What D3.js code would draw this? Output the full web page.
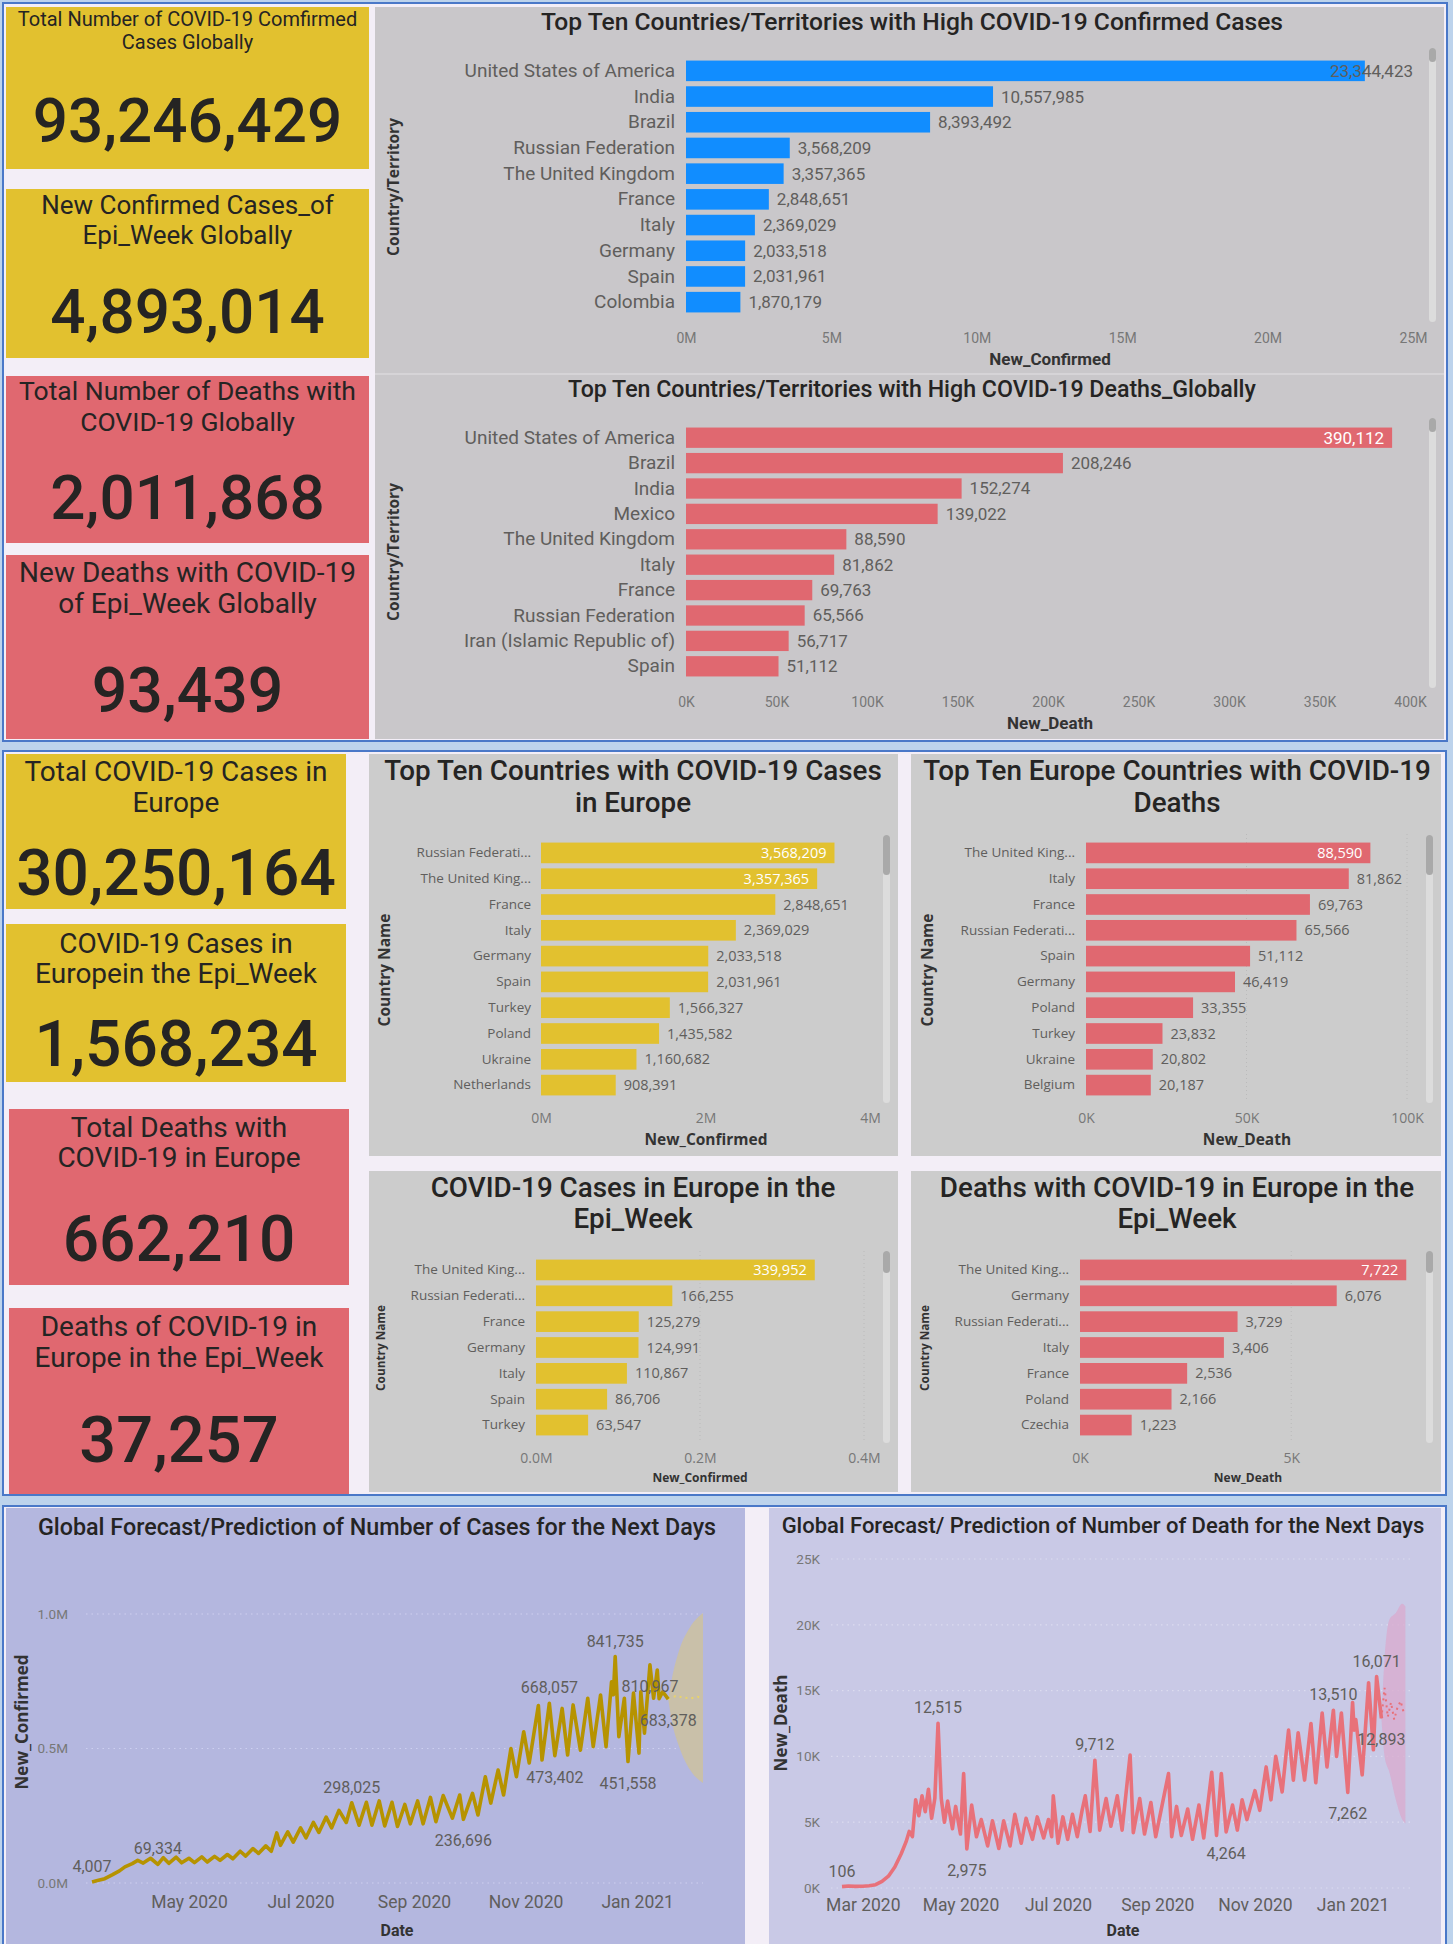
<!DOCTYPE html>
<html>
<head>
<meta charset="utf-8">
<script src="https://cdn.jsdelivr.net/npm/d3@7"></script>
<style>
  body { margin: 0; background: #bdd3ec; }
  svg { display: block; }
</style>
</head>
<body>
<svg id="dash" width="1453" height="1944"></svg>
<script>
// ---------- data ----------
var kpiTitles = [
  ["Total Number of COVID-19 Comfirmed", "Cases Globally"],
  ["New Confirmed Cases_of", "Epi_Week Globally"],
  ["Total Number of Deaths with", "COVID-19 Globally"],
  ["New Deaths with COVID-19", "of Epi_Week Globally"],
  ["Total COVID-19 Cases in", "Europe"],
  ["COVID-19 Cases in", "Europein the Epi_Week"],
  ["Total Deaths with", "COVID-19 in Europe"],
  ["Deaths of COVID-19 in", "Europe in the Epi_Week"]
];
var kpiValues = [93246429, 4893014, 2011868, 93439, 30250164, 1568234, 662210, 37257];

var globalCountries = ["United States of America", "India", "Brazil", "Russian Federation", "The United Kingdom",
  "France", "Italy", "Germany", "Spain", "Colombia"];
var globalConfirmed = [23344423, 10557985, 8393492, 3568209, 3357365, 2848651, 2369029, 2033518, 2031961, 1870179];

var globalDeathCountries = ["United States of America", "Brazil", "India", "Mexico", "The United Kingdom",
  "Italy", "France", "Russian Federation", "Iran (Islamic Republic of)", "Spain"];
var globalDeaths = [390112, 208246, 152274, 139022, 88590, 81862, 69763, 65566, 56717, 51112];

var euCaseCountries = ["Russian Federation", "The United Kingdom", "France", "Italy", "Germany", "Spain",
  "Turkey", "Poland", "Ukraine", "Netherlands"];
var euCases = [3568209, 3357365, 2848651, 2369029, 2033518, 2031961, 1566327, 1435582, 1160682, 908391];

var euDeathCountries = ["The United Kingdom", "Italy", "France", "Russian Federation", "Spain", "Germany",
  "Poland", "Turkey", "Ukraine", "Belgium"];
var euDeaths = [88590, 81862, 69763, 65566, 51112, 46419, 33355, 23832, 20802, 20187];

var weekCaseCountries = ["The United Kingdom", "Russian Federation", "France", "Germany", "Italy", "Spain", "Turkey"];
var weekCases = [339952, 166255, 125279, 124991, 110867, 86706, 63547];

var weekDeathCountries = ["The United Kingdom", "Germany", "Russian Federation", "Italy", "France", "Poland", "Czechia"];
var weekDeaths = [7722, 6076, 3729, 3406, 2536, 2166, 1223];

var dailyCases = [
  ["2020-03-09",4007],["2020-03-12",9000],["2020-03-16",16000],["2020-03-20",30000],["2020-03-24",45000],
  ["2020-03-27",60000],["2020-03-31",72000],["2020-04-03",84000],["2020-04-06",74000],["2020-04-10",92000],
  ["2020-04-14",69334],["2020-04-17",94000],["2020-04-20",73000],["2020-04-24",96000],["2020-04-27",75000],
  ["2020-05-01",92000],["2020-05-04",76000],["2020-05-08",97000],["2020-05-11",78000],["2020-05-15",99000],
  ["2020-05-18",84000],["2020-05-22",106000],["2020-05-25",90000],["2020-05-29",118000],["2020-06-01",100000],
  ["2020-06-05",128000],["2020-06-08",110000],["2020-06-12",138000],["2020-06-15",118000],["2020-06-18",186000],
  ["2020-06-20",140000],["2020-06-24",190000],["2020-06-27",152000],["2020-07-01",205000],["2020-07-04",168000],
  ["2020-07-08",225000],["2020-07-11",188000],["2020-07-15",245000],["2020-07-18",205000],["2020-07-22",270000],
  ["2020-07-26",225000],["2020-07-29",298025],["2020-08-02",215000],["2020-08-06",300000],["2020-08-09",215000],
  ["2020-08-13",305000],["2020-08-16",212000],["2020-08-20",300000],["2020-08-23",210000],["2020-08-27",292000],
  ["2020-08-30",220000],["2020-09-03",305000],["2020-09-06",220000],["2020-09-10",318000],["2020-09-13",228000],
  ["2020-09-17",325000],["2020-09-22",241000],["2020-09-26",327000],["2020-09-28",236696],["2020-10-03",333000],
  ["2020-10-06",253000],["2020-10-10",395000],["2020-10-13",297000],["2020-10-17",420000],["2020-10-20",327000],
  ["2020-10-24",500000],["2020-10-27",395000],["2020-10-31",562000],["2020-11-03",446000],["2020-11-08",660000],
  ["2020-11-10",457000],["2020-11-14",668057],["2020-11-17",473402],["2020-11-21",649000],["2020-11-24",476000],
  ["2020-11-27",662000],["2020-12-01",494000],["2020-12-05",687000],["2020-12-08",507000],["2020-12-12",699000],
  ["2020-12-15",507000],["2020-12-18",748000],["2020-12-19",700000],["2020-12-20",841735],["2020-12-22",544000],
  ["2020-12-25",687000],["2020-12-27",451558],["2020-12-30",706000],["2021-01-02",483000],["2021-01-03",711000],
  ["2021-01-05",557000],["2021-01-08",810967],["2021-01-10",687000],["2021-01-12",792000],["2021-01-13",685000],
  ["2021-01-15",711000],["2021-01-18",683378]
];
var caseForecast = [["2021-01-18",683378],["2021-01-22",695000],["2021-01-26",690000],["2021-01-30",686000],
  ["2021-02-03",692000],["2021-02-06",688000]];
var caseBand = [["2021-01-18",683378,683378],["2021-01-20",600000,760000],["2021-01-24",506000,866000],
  ["2021-01-30",420000,952000],["2021-02-06",372000,1004000]];
var caseLabelled = [4007, 69334, 298025, 236696, 668057, 473402, 841735, 451558, 810967, 683378];

var dailyDeaths = [
  ["2020-02-17",106],["2020-02-21",150],["2020-02-25",120],["2020-03-01",130],["2020-03-05",170],
  ["2020-03-09",250],["2020-03-13",500],["2020-03-17",900],["2020-03-21",1600],["2020-03-25",2600],
  ["2020-03-28",3500],["2020-03-30",4300],["2020-04-01",3900],["2020-04-03",6700],["2020-04-05",5500],
  ["2020-04-07",7000],["2020-04-09",5800],["2020-04-11",7500],["2020-04-13",5300],["2020-04-15",6800],
  ["2020-04-17",12515],["2020-04-19",6800],["2020-04-21",5000],["2020-04-23",6600],["2020-04-26",4500],
  ["2020-04-28",6200],["2020-05-01",4100],["2020-05-03",8700],["2020-05-05",2975],["2020-05-08",6300],
  ["2020-05-11",3900],["2020-05-14",5200],["2020-05-18",3200],["2020-05-21",5100],["2020-05-25",3000],
  ["2020-05-28",5100],["2020-06-01",3200],["2020-06-04",5600],["2020-06-08",3400],["2020-06-11",5300],
  ["2020-06-15",3700],["2020-06-18",5400],["2020-06-22",3800],["2020-06-25",5200],["2020-06-27",3900],
  ["2020-06-28",7000],["2020-07-01",3400],["2020-07-04",5400],["2020-07-07",3700],["2020-07-10",5600],
  ["2020-07-13",3900],["2020-07-16",5900],["2020-07-18",7000],["2020-07-21",4300],["2020-07-24",9712],
  ["2020-07-27",4400],["2020-07-31",6800],["2020-08-03",4700],["2020-08-07",7000],["2020-08-10",4400],
  ["2020-08-15",10100],["2020-08-17",4200],["2020-08-21",6800],["2020-08-24",4100],["2020-08-28",6500],
  ["2020-08-31",3900],["2020-09-04",6300],["2020-09-08",8700],["2020-09-10",3900],["2020-09-13",6200],
  ["2020-09-16",4000],["2020-09-20",6000],["2020-09-23",3700],["2020-09-27",6300],["2020-09-30",3800],
  ["2020-10-05",8800],["2020-10-08",4000],["2020-10-11",8700],["2020-10-14",4264],["2020-10-18",6300],
  ["2020-10-21",4400],["2020-10-24",6700],["2020-10-27",5200],["2020-11-01",7400],["2020-11-04",5900],
  ["2020-11-08",9200],["2020-11-11",6700],["2020-11-14",10000],["2020-11-18",7300],["2020-11-22",12000],
  ["2020-11-25",8200],["2020-11-28",11800],["2020-12-02",8200],["2020-12-06",12500],["2020-12-09",8000],
  ["2020-12-13",13300],["2020-12-16",9200],["2020-12-20",13510],["2020-12-22",10000],["2020-12-25",13300],
  ["2020-12-29",7262],["2021-01-01",14100],["2021-01-02",12000],["2021-01-03",12800],["2021-01-07",8600],
  ["2021-01-11",15600],["2021-01-14",10500],["2021-01-16",16071],["2021-01-19",12893]
];
var deathForecast = [["2021-01-19",12893],["2021-01-21",15200],["2021-01-23",13000],["2021-01-25",14100],
  ["2021-01-27",12800],["2021-01-29",13700],["2021-01-31",14200],["2021-02-02",13300]];
var deathBand = [["2021-01-19",12893,12893],["2021-01-21",10000,17500],["2021-01-24",8800,20400],
  ["2021-01-28",6700,20900],["2021-02-01",5200,21600],["2021-02-03",4900,21400]];
var deathLabelled = [106, 12515, 2975, 9712, 4264, 13510, 7262, 16071, 12893];

// ---------- look ----------
var svg = d3.select("#dash");
var DIN = "Roboto, 'Noto Sans', sans-serif";
var SEG = "'Open Sans', 'Noto Sans', sans-serif";
var YEL = "#e2c12f", RED = "#e06870", BLUE = "#118dff", INK = "#252423", GREY = "#605e5c";
var fmt = d3.format(",");
var parse = d3.timeParse("%Y-%m-%d");

// sections
svg.append("rect").attr("x", 3).attr("y", 3).attr("width", 1444).attr("height", 738)
  .attr("fill", "#f3eef7").attr("stroke", "#4a78c8").attr("stroke-width", 2);
svg.append("rect").attr("x", 3).attr("y", 751).attr("width", 1443).attr("height", 744)
  .attr("fill", "#f3eef7").attr("stroke", "#4a78c8").attr("stroke-width", 2);
svg.append("rect").attr("x", 3).attr("y", 1506).attr("width", 1443).attr("height", 460)
  .attr("fill", "#f3eef7").attr("stroke", "#4a78c8").attr("stroke-width", 2);
// seam behind the two global charts
svg.append("rect").attr("x", 375).attr("y", 7).attr("width", 1069).attr("height", 732).attr("fill", "#d6d4d7");

// ---------- KPI cards ----------
var cards = [
  {x: 6, y: 7,    w: 363, h: 162, fill: YEL, ts: 20,   l1: 26,   l2: 49,   vb: 142,  vs: 62},
  {x: 6, y: 189,  w: 363, h: 169, fill: YEL, ts: 26,   l1: 214,  l2: 244,  vb: 333,  vs: 62},
  {x: 6, y: 376,  w: 363, h: 167, fill: RED, ts: 26.5, l1: 400,  l2: 431,  vb: 519,  vs: 62},
  {x: 6, y: 555,  w: 363, h: 184, fill: RED, ts: 28,   l1: 582,  l2: 613,  vb: 712,  vs: 62.5},
  {x: 6, y: 754,  w: 340, h: 155, fill: YEL, ts: 28,   l1: 781,  l2: 812,  vb: 895,  vs: 64},
  {x: 6, y: 924,  w: 340, h: 158, fill: YEL, ts: 28,   l1: 953,  l2: 983,  vb: 1066, vs: 64},
  {x: 9, y: 1109, w: 340, h: 176, fill: RED, ts: 28,   l1: 1137, l2: 1167, vb: 1261, vs: 64},
  {x: 9, y: 1308, w: 340, h: 186, fill: RED, ts: 28,   l1: 1336, l2: 1367, vb: 1462, vs: 65}
];
cards.forEach(function(c, i) {
  var g = svg.append("g");
  g.append("rect").attr("x", c.x).attr("y", c.y).attr("width", c.w).attr("height", c.h).attr("fill", c.fill);
  var cx = c.x + c.w / 2;
  kpiTitles[i].forEach(function(line, j) {
    g.append("text").attr("x", cx).attr("y", j ? c.l2 : c.l1).attr("text-anchor", "middle")
      .attr("font-family", DIN).attr("font-size", c.ts).attr("fill", INK).text(line);
  });
  g.append("text").attr("x", cx).attr("y", c.vb).attr("text-anchor", "middle")
    .attr("font-family", DIN).attr("font-weight", 500).attr("font-size", c.vs).attr("fill", INK)
    .text(fmt(kpiValues[i]));
});

// ---------- bar charts ----------
function truncate(node, maxW) {
  if (!maxW || node.getComputedTextLength() <= maxW) return;
  var s = node.textContent;
  while (s.length > 1) {
    s = s.slice(0, -1);
    node.textContent = s + "...";
    if (node.getComputedTextLength() <= maxW) break;
  }
}

function scrollbar(g, x, y0, y1, thumb) {
  g.append("rect").attr("x", x).attr("y", y0).attr("width", 7).attr("height", y1 - y0)
    .attr("rx", 3.5).attr("fill", "#dcdcdc");
  g.append("rect").attr("x", x).attr("y", y0).attr("width", 7).attr("height", thumb)
    .attr("rx", 3.5).attr("fill", "#a9a9a9");
}

function barChart(c) {
  var g = svg.append("g");
  g.append("rect").attr("x", c.box[0]).attr("y", c.box[1]).attr("width", c.box[2]).attr("height", c.box[3])
    .attr("fill", c.bg);

  var title = g.append("text").attr("text-anchor", "middle").attr("font-family", DIN)
    .attr("font-size", c.titleSize).attr("font-weight", 500).attr("fill", INK);
  c.title.forEach(function(line, i) {
    title.append("tspan").attr("x", c.titleX).attr("y", c.titleY + i * c.lead).text(line);
  });

  var x = d3.scaleLinear().domain([0, c.max]).range(c.xr);
  var y = d3.scaleBand().domain(c.names).range(c.yr).paddingInner(0.2).paddingOuter(0.1);

  if (c.grid) {
    g.selectAll(".grid").data(c.ticks.slice(1)).join("line")
      .attr("x1", x).attr("x2", x).attr("y1", c.yr[0] - 6).attr("y2", c.yr[1] + 4)
      .attr("stroke", "#bababa").attr("stroke-dasharray", "1,3");
  }

  g.selectAll(".bar").data(c.values).join("rect")
    .attr("x", x(0)).attr("y", function(d, i) { return y(c.names[i]); })
    .attr("width", function(d) { return x(d) - x(0); })
    .attr("height", y.bandwidth()).attr("fill", c.color);

  var ya = g.append("g").attr("transform", "translate(" + c.xr[0] + ",0)")
    .call(d3.axisLeft(y).tickSize(0).tickPadding(c.xr[0] - c.labelEnd));
  ya.select(".domain").remove();
  ya.selectAll("text").attr("font-family", c.font).attr("font-size", c.labelSize).attr("fill", GREY)
    .each(function() { truncate(this, c.labelMax); });

  c.values.forEach(function(v, i) {
    var t = g.append("text").attr("x", x(v) + 8).attr("y", y(c.names[i]) + y.bandwidth() / 2)
      .attr("dy", "0.35em").attr("font-family", c.font).attr("font-size", c.valueSize)
      .attr("fill", GREY).text(fmt(v));
    var w = t.node().getComputedTextLength();
    if (x(v) + 8 + w > c.xr[1]) {
      if (c.clamp) t.attr("x", c.xr[1]).attr("text-anchor", "end");
      else t.attr("x", x(v) - 8).attr("text-anchor", "end").attr("fill", "#ffffff");
    }
  });

  var xa = g.append("g").attr("transform", "translate(0," + c.tickY + ")")
    .call(d3.axisBottom(x).tickValues(c.ticks).tickFormat(c.fmt).tickSize(0));
  xa.select(".domain").remove();
  xa.selectAll("text").attr("y", 0).attr("dy", "0.35em").attr("font-family", c.font)
    .attr("font-size", c.tickSize).attr("fill", "#777");

  g.append("text").attr("x", c.xTitle[1]).attr("y", c.xTitle[2]).attr("dy", "0.35em")
    .attr("text-anchor", "middle").attr("font-family", c.font).attr("font-weight", 700)
    .attr("font-size", c.xTitle[3]).attr("fill", "#333").text(c.xTitle[0]);
  g.append("text").attr("transform", "translate(" + c.yTitle[1] + "," + c.yTitle[2] + ") rotate(-90)")
    .attr("dy", "0.35em").attr("text-anchor", "middle").attr("font-family", SEG).attr("font-weight", 700)
    .attr("font-size", c.yTitle[3]).attr("fill", "#333").text(c.yTitle[0]);

  scrollbar(g, c.scroll[0], c.scroll[1], c.scroll[2], c.scroll[3]);
}

var fmtM = function(d) { return d / 1e6 + "M"; };
var fmtK = function(d) { return d / 1000 + "K"; };

barChart({
  box: [375, 7, 1069, 366], bg: "#c9c7ca", font: DIN,
  title: ["Top Ten Countries/Territories with High COVID-19 Confirmed Cases"], titleX: 912, titleY: 30, lead: 0, titleSize: 24.6,
  names: globalCountries, values: globalConfirmed, max: 25e6, ticks: [0, 5e6, 10e6, 15e6, 20e6, 25e6], fmt: fmtM,
  xr: [686, 1413], yr: [58, 315], color: BLUE, labelEnd: 675, labelSize: 19, valueSize: 17, clamp: true,
  tickY: 338, tickSize: 14, xTitle: ["New_Confirmed", 1050, 359, 17], yTitle: ["Country/Territory", 394, 187, 15.5],
  scroll: [1429, 48, 322, 14]
});
barChart({
  box: [375, 375, 1069, 364], bg: "#c9c7ca", font: DIN,
  title: ["Top Ten Countries/Territories with High COVID-19 Deaths_Globally"], titleX: 912, titleY: 397, lead: 0, titleSize: 23.2,
  names: globalDeathCountries, values: globalDeaths, max: 4e5,
  ticks: [0, 5e4, 1e5, 15e4, 2e5, 25e4, 3e5, 35e4, 4e5], fmt: fmtK,
  xr: [686, 1410], yr: [425, 679], color: RED, labelEnd: 675, labelSize: 19, valueSize: 17,
  tickY: 702, tickSize: 14, xTitle: ["New_Death", 1050, 723, 17], yTitle: ["Country/Territory", 394, 552, 15.5],
  scroll: [1429, 418, 688, 14]
});
barChart({
  box: [369, 754, 529, 402], bg: "#cccccc", font: SEG, grid: false,
  title: ["Top Ten Countries with COVID-19 Cases", "in Europe"], titleX: 633, titleY: 780, lead: 32, titleSize: 27.8,
  names: euCaseCountries, values: euCases, max: 4e6, ticks: [0, 2e6, 4e6], fmt: fmtM,
  xr: [541, 870], yr: [840, 1098], color: YEL, labelEnd: 531, labelMax: 118, labelSize: 13.5, valueSize: 14.5,
  tickY: 1118, tickSize: 14, xTitle: ["New_Confirmed", 706, 1140, 15.5], yTitle: ["Country Name", 385, 970, 15.5],
  scroll: [883, 835, 1103, 40]
});
barChart({
  box: [911, 754, 530, 402], bg: "#cccccc", font: SEG, grid: true,
  title: ["Top Ten Europe Countries with COVID-19", "Deaths"], titleX: 1177, titleY: 780, lead: 32, titleSize: 27.8,
  names: euDeathCountries, values: euDeaths, max: 1e5, ticks: [0, 5e4, 1e5], fmt: fmtK,
  xr: [1086, 1407], yr: [840, 1098], color: RED, labelEnd: 1075, labelMax: 118, labelSize: 13.5, valueSize: 14.5,
  tickY: 1118, tickSize: 14, xTitle: ["New_Death", 1247, 1140, 15.5], yTitle: ["Country Name", 928, 970, 15.5],
  scroll: [1426, 835, 1103, 40]
});
barChart({
  box: [369, 1171, 529, 321], bg: "#cccccc", font: SEG, grid: true,
  title: ["COVID-19 Cases in Europe in the", "Epi_Week"], titleX: 633, titleY: 1197, lead: 31, titleSize: 27.8,
  names: weekCaseCountries, values: weekCases, max: 4e5, ticks: [0, 2e5, 4e5],
  fmt: function(d) { return (d / 1e6).toFixed(1) + "M"; },
  xr: [536, 864], yr: [1257, 1438], color: YEL, labelEnd: 525, labelMax: 118, labelSize: 13.5, valueSize: 14.5,
  tickY: 1458, tickSize: 14, xTitle: ["New_Confirmed", 700, 1478, 12], yTitle: ["Country Name", 381, 1348, 11.8],
  scroll: [883, 1251, 1443, 22]
});
barChart({
  box: [911, 1171, 530, 321], bg: "#cccccc", font: SEG, grid: true,
  title: ["Deaths with COVID-19 in Europe in the", "Epi_Week"], titleX: 1177, titleY: 1197, lead: 31, titleSize: 27.8,
  names: weekDeathCountries, values: weekDeaths, max: 8000, ticks: [0, 5000], fmt: fmtK,
  xr: [1080, 1418], yr: [1257, 1438], color: RED, labelEnd: 1069, labelMax: 118, labelSize: 13.5, valueSize: 14.5,
  tickY: 1458, tickSize: 14, xTitle: ["New_Death", 1248, 1478, 12], yTitle: ["Country Name", 925, 1348, 11.8],
  scroll: [1426, 1251, 1443, 22]
});

// ---------- forecast line charts ----------
function lineChart(c) {
  var g = svg.append("g");
  g.append("rect").attr("x", c.box[0]).attr("y", c.box[1]).attr("width", c.box[2]).attr("height", c.box[3])
    .attr("fill", c.bg);
  g.append("text").attr("x", c.titleX).attr("y", c.titleY).attr("text-anchor", "middle")
    .attr("font-family", DIN).attr("font-size", c.titleSize).attr("font-weight", 500).attr("fill", INK).text(c.title);

  var series = c.data.map(function(d) { return {date: parse(d[0]), v: d[1]}; });
  var fc = c.forecast.map(function(d) { return {date: parse(d[0]), v: d[1]}; });
  var band = c.band.map(function(d) { return {date: parse(d[0]), lo: d[1], hi: d[2]}; });

  var x = d3.scaleTime().domain(c.xd.map(parse)).range(c.xr);
  var y = d3.scaleLinear().domain(c.yd).range(c.yr);

  g.selectAll(".grid").data(c.yticks).join("line")
    .attr("x1", c.gridX[0]).attr("x2", c.gridX[1]).attr("y1", y).attr("y2", y)
    .attr("stroke", c.gridColor).attr("stroke-width", 1.2).attr("stroke-dasharray", "1.5,4");

  var ya = g.append("g").attr("transform", "translate(" + c.yLabelEnd + ",0)")
    .call(d3.axisLeft(y).tickValues(c.yticks).tickFormat(c.yfmt).tickSize(0).tickPadding(0));
  ya.select(".domain").remove();
  ya.selectAll("text").attr("font-family", DIN).attr("font-size", 13.5).attr("fill", "#777");

  var xa = g.append("g").attr("transform", "translate(0," + c.xTickY + ")")
    .call(d3.axisBottom(x).ticks(d3.timeMonth.every(2)).tickFormat(d3.timeFormat("%b %Y")).tickSize(0));
  xa.select(".domain").remove();
  xa.selectAll("text").attr("y", 0).attr("dy", "0.35em").attr("font-family", DIN)
    .attr("font-size", 17.5).attr("fill", GREY);

  g.append("path").datum(band).attr("fill", c.bandColor).attr("opacity", c.bandOpacity)
    .attr("d", d3.area().curve(d3.curveMonotoneX)
      .x(function(d) { return x(d.date); })
      .y0(function(d) { return y(d.lo); })
      .y1(function(d) { return y(d.hi); }));

  g.append("path").datum(fc).attr("fill", "none").attr("stroke", c.fcColor).attr("stroke-width", 2)
    .attr("stroke-dasharray", "2,4")
    .attr("d", d3.line().x(function(d) { return x(d.date); }).y(function(d) { return y(d.v); }));

  g.append("path").datum(series).attr("fill", "none").attr("stroke", c.color).attr("stroke-width", 3.6)
    .attr("stroke-linejoin", "round")
    .attr("d", d3.line().x(function(d) { return x(d.date); }).y(function(d) { return y(d.v); }));

  // data labels: above by default, below deep troughs, pushed below when they would collide
  var span = c.yd[1] - c.yd[0];
  var placed = [];
  series.forEach(function(p, i) {
    if (c.labelled.indexOf(p.v) < 0) return;
    var prev = series[i - 1], next = series[i + 1];
    var dip = i > 0 ? Math.min(prev.v, next ? next.v : prev.v) - p.v : 0;
    var low = dip > span * 0.05;
    var t = g.append("text").attr("x", x(p.date)).attr("text-anchor", "middle")
      .attr("font-family", DIN).attr("font-size", 16).attr("fill", GREY).text(fmt(p.v));
    t.attr("y", low ? y(p.v) + 27 : y(p.v) - 10);
    var b = t.node().getBBox();
    var hit = placed.some(function(q) {
      return b.x < q.x + q.width && b.x + b.width > q.x && b.y < q.y + q.height && b.y + b.height > q.y;
    });
    if (hit && !low) { t.attr("y", y(p.v) + 27); b = t.node().getBBox(); }
    placed.push(b);
  });

  g.append("text").attr("x", c.dateX).attr("y", 1930).attr("dy", "0.35em").attr("text-anchor", "middle")
    .attr("font-family", DIN).attr("font-weight", 700).attr("font-size", 16).attr("fill", "#333").text("Date");
  g.append("text").attr("transform", "translate(" + c.yTitle[1] + "," + c.yTitle[2] + ") rotate(-90)")
    .attr("dy", "0.35em").attr("text-anchor", "middle").attr("font-family", SEG).attr("font-weight", 700)
    .attr("font-size", 17).attr("fill", "#333").text(c.yTitle[0]);
}

lineChart({
  box: [6, 1508, 739, 440], bg: "#b4b7df", title: "Global Forecast/Prediction of Number of Cases for the Next Days",
  titleX: 377, titleY: 1535, titleSize: 23.3, data: dailyCases, forecast: caseForecast, band: caseBand, labelled: caseLabelled,
  xd: ["2020-03-09", "2021-02-06"], xr: [92, 703], yd: [0, 1e6], yr: [1883, 1614],
  yticks: [0, 5e5, 1e6], yfmt: function(d) { return (d / 1e6).toFixed(1) + "M"; },
  gridX: [86, 703], gridColor: "#cdd0ef", yLabelEnd: 68, xTickY: 1902,
  color: "#b69300", fcColor: "#e9d36a", bandColor: "#c9c0a9", bandOpacity: 1,
  dateX: 397, yTitle: ["New_Confirmed", 22, 1722]
});
lineChart({
  box: [769, 1508, 672, 440], bg: "#c9c9e6", title: "Global Forecast/ Prediction of Number of Death for the Next Days",
  titleX: 1103, titleY: 1533, titleSize: 22, data: dailyDeaths, forecast: deathForecast, band: deathBand, labelled: deathLabelled,
  xd: ["2020-02-17", "2021-02-04"], xr: [842, 1407], yd: [0, 25000], yr: [1888, 1559],
  yticks: [0, 5000, 10000, 15000, 20000, 25000], yfmt: fmtK,
  gridX: [831, 1414], gridColor: "#dcdcef", yLabelEnd: 820, xTickY: 1905,
  color: "#e8717a", fcColor: "#e8717a", bandColor: "#d9aacd", bandOpacity: 0.75,
  dateX: 1123, yTitle: ["New_Death", 781, 1723]
});
</script>
</body>
</html>
